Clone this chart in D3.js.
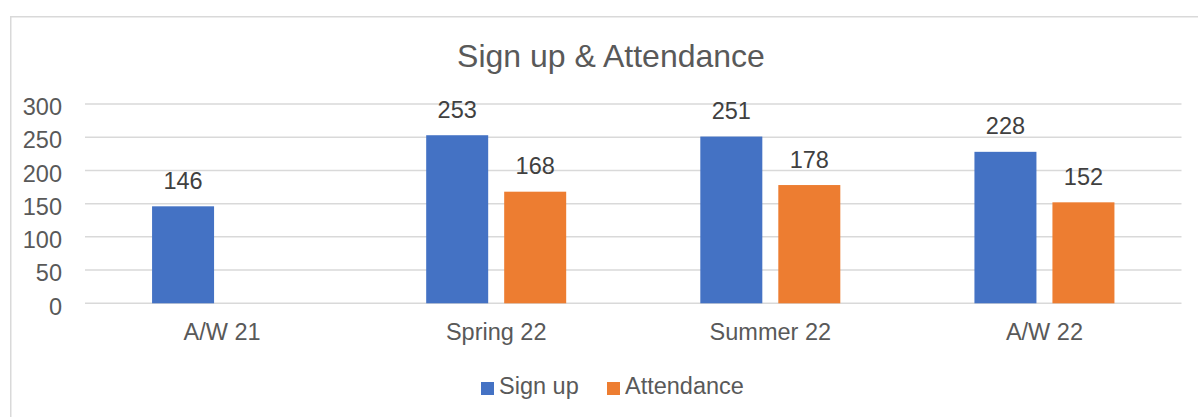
<!DOCTYPE html>
<html>
<head>
<meta charset="utf-8">
<script src="https://d3js.org/d3.v7.min.js"></script>
<style>
  body { margin:0; background:#fff; }
  svg text { font-family: "Liberation Sans", Arial, sans-serif; }
</style>
</head>
<body>
<script>
  // data
  var categories = ["A/W 21", "Spring 22", "Summer 22", "A/W 22"];
  var seriesNames = ["Sign up", "Attendance"];
  var signUp = [146, 253, 251, 228];
  var attendance = [null, 168, 178, 152];
  var yTicks = [0, 50, 100, 150, 200, 250, 300];
  var colors = ["#4472C4", "#ED7D31"];

  var W = 1198, H = 417;
  var plot = {left: 85, right: 1181.5, top: 104, bottom: 303.3};

  var svg = d3.select("body").append("svg")
      .attr("width", W)
      .attr("height", H);

  // chart frame (only top and left edges are visible in the crop)
  svg.append("path")
      .attr("d", "M10.75," + H + "V16.75H" + W)
      .attr("fill", "none")
      .attr("stroke", "#d9d9d9")
      .attr("stroke-width", 1.5);

  svg.append("text")
      .attr("x", 611)
      .attr("y", 66.5)
      .attr("text-anchor", "middle")
      .attr("fill", "#595959")
      .style("font-size", "32px")
      .text("Sign up & Attendance");

  var y = d3.scaleLinear()
      .domain([0, 300])
      .range([plot.bottom, plot.top]);

  var x0 = d3.scaleBand()
      .domain(categories)
      .range([plot.left, plot.right])
      .padding(0);

  // group of two bars is 140px wide inside a ~274px band
  var groupW = 140;
  var x1 = d3.scaleBand()
      .domain(seriesNames)
      .range([(x0.bandwidth() - groupW) / 2, (x0.bandwidth() + groupW) / 2])
      .paddingInner(0.205)
      .paddingOuter(0);

  // gridlines
  svg.append("g").selectAll("line")
    .data(yTicks).enter().append("line")
      .attr("x1", plot.left)
      .attr("x2", plot.right)
      .attr("y1", function(d) { return y(d); })
      .attr("y2", function(d) { return y(d); })
      .attr("stroke", "#d9d9d9")
      .attr("stroke-width", 1.5);

  // y axis labels
  var yAxis = svg.append("g")
      .attr("transform", "translate(62,2.5)")
      .call(d3.axisLeft(y).tickValues(yTicks).tickSize(0).tickPadding(0));
  yAxis.select(".domain").remove();
  yAxis.selectAll("text")
      .attr("fill", "#595959")
      .attr("dy", "0.35em")
      .style("font-size", "23.5px")
      .style("font-family", "'Liberation Sans', Arial, sans-serif");

  // x axis labels
  var xAxis = svg.append("g")
      .attr("transform", "translate(0," + plot.bottom + ")")
      .call(d3.axisBottom(x0).tickSize(0).tickPadding(0));
  xAxis.select(".domain").remove();
  xAxis.selectAll("text")
      .attr("fill", "#595959")
      .attr("dy", 0)
      .attr("y", 37)
      .style("font-size", "23.5px")
      .style("font-family", "'Liberation Sans', Arial, sans-serif");

  var rows = [];
  categories.forEach(function(c, i) {
    rows.push({cat: c, series: seriesNames[0], value: signUp[i], color: colors[0]});
    if (attendance[i] != null)
      rows.push({cat: c, series: seriesNames[1], value: attendance[i], color: colors[1]});
  });

  var bars = svg.append("g");
  bars.selectAll("rect")
    .data(rows).enter().append("rect")
      .attr("x", function(d) { return x0(d.cat) + x1(d.series); })
      .attr("width", x1.bandwidth())
      .attr("y", function(d) { return y(d.value); })
      .attr("height", function(d) { return y(0) - y(d.value); })
      .attr("fill", function(d) { return d.color; });

  bars.selectAll("text")
    .data(rows).enter().append("text")
      .attr("x", function(d) { return x0(d.cat) + x1(d.series) + x1.bandwidth() / 2; })
      .attr("y", function(d) { return y(d.value) - 17.5; })
      .attr("text-anchor", "middle")
      .attr("fill", "#404040")
      .style("font-size", "23.5px")
      .text(function(d) { return d.value; });

  // legend
  var legendX = [481, 607];
  var legend = svg.append("g").selectAll("g")
    .data(seriesNames).enter().append("g")
      .attr("transform", function(d, i) { return "translate(" + legendX[i] + ",382)"; });
  legend.append("rect")
      .attr("width", 13)
      .attr("height", 13)
      .attr("fill", function(d, i) { return colors[i]; });
  legend.append("text")
      .attr("x", 18)
      .attr("y", 11.5)
      .attr("fill", "#595959")
      .style("font-size", "23.5px")
      .text(function(d) { return d; });
</script>
</body>
</html>
